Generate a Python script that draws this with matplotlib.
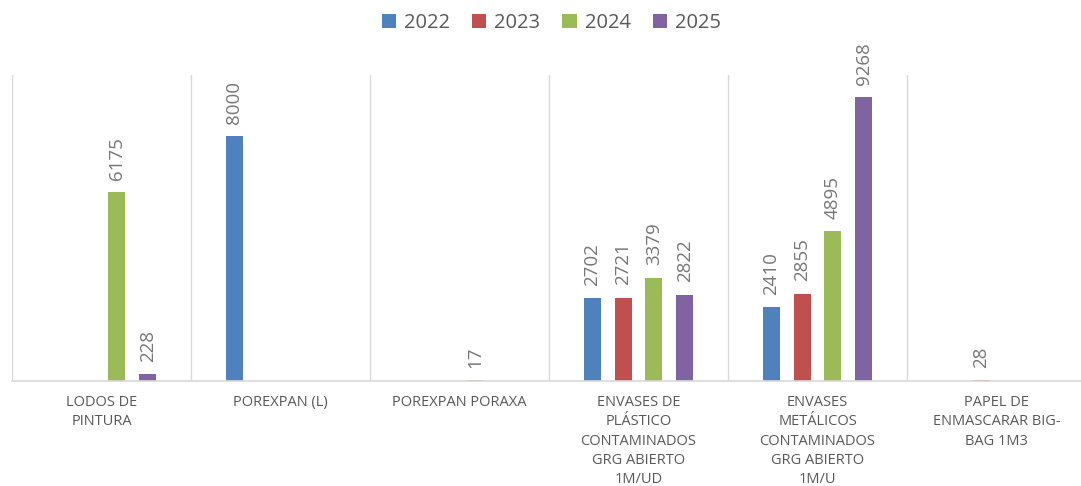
import numpy as np
import matplotlib
matplotlib.use('Agg')
import matplotlib.pyplot as plt

categories = [
    "LODOS DE\nPINTURA",
    "POREXPAN (L)",
    "POREXPAN PORAXA",
    "ENVASES DE\nPLÁSTICO\nCONTAMINADOS\nGRG ABIERTO\n1M/UD",
    "ENVASES\nMETÁLICOS\nCONTAMINADOS\nGRG ABIERTO\n1M/U",
    "PAPEL DE\nENMASCARAR BIG-\nBAG 1M3",
]
years = ["2022", "2023", "2024", "2025"]
v2022 = [None, 8000, None, 2702, 2410, None]
v2023 = [None, None, None, 2721, 2855, 28]
v2024 = [6175, None, 17, 3379, 4895, None]
v2025 = [228, None, None, 2822, 9268, None]
series = [v2022, v2023, v2024, v2025]
colors = ['#4f81bd', '#c0504d', '#9bbb59', '#8064a2']

plt.rcParams['font.family'] = ['Open Sans', 'DejaVu Sans']
txt = '#595959'

fig = plt.figure(figsize=(10.81, 4.86), dpi=100)
ax = fig.add_axes([12 / 1081, 1 - 381 / 486, 1074 / 1081, 306 / 486])

n = len(categories)
x = np.arange(n)
step = 0.172
width = 0.095
for j, (vals, yr, c) in enumerate(zip(series, years, colors)):
    pos = x + (j - 1.5) * step
    h = [v if v is not None else 0 for v in vals]
    ax.bar(pos, h, width, color=c, label=yr)
    for p, v in zip(pos, vals):
        if v is not None:
            ax.annotate(str(v), (p, v), xytext=(0, 9), textcoords='offset points',
                        rotation=90, ha='center', va='bottom', fontsize=13.5,
                        color='#767676')

ax.set_xlim(-0.5, n - 0.5)
ax.set_ylim(0, 10000)
ax.set_yticks([])
for b in range(n):
    ax.axvline(b - 0.5, color='#d9d9d9', lw=1)
ax.axvline(n - 0.5, color='#d9d9d9', lw=1)
for s in ['top', 'right', 'left']:
    ax.spines[s].set_visible(False)
ax.spines['bottom'].set_color('#d9d9d9')
ax.spines['bottom'].set_linewidth(1.2)
ax.set_xticks(x)
ax.set_xticklabels(categories, fontsize=10.5, color=txt, linespacing=1.4)
ax.tick_params(axis='x', length=0, pad=10)

fig.legend(loc='upper center', bbox_to_anchor=(0.51, 1.01), ncol=4, frameon=False,
           fontsize=14.5, labelcolor=txt, handlelength=0.7, handleheight=0.7,
           handletextpad=0.4, columnspacing=1.1)

fig.savefig('out.png', dpi=100)
